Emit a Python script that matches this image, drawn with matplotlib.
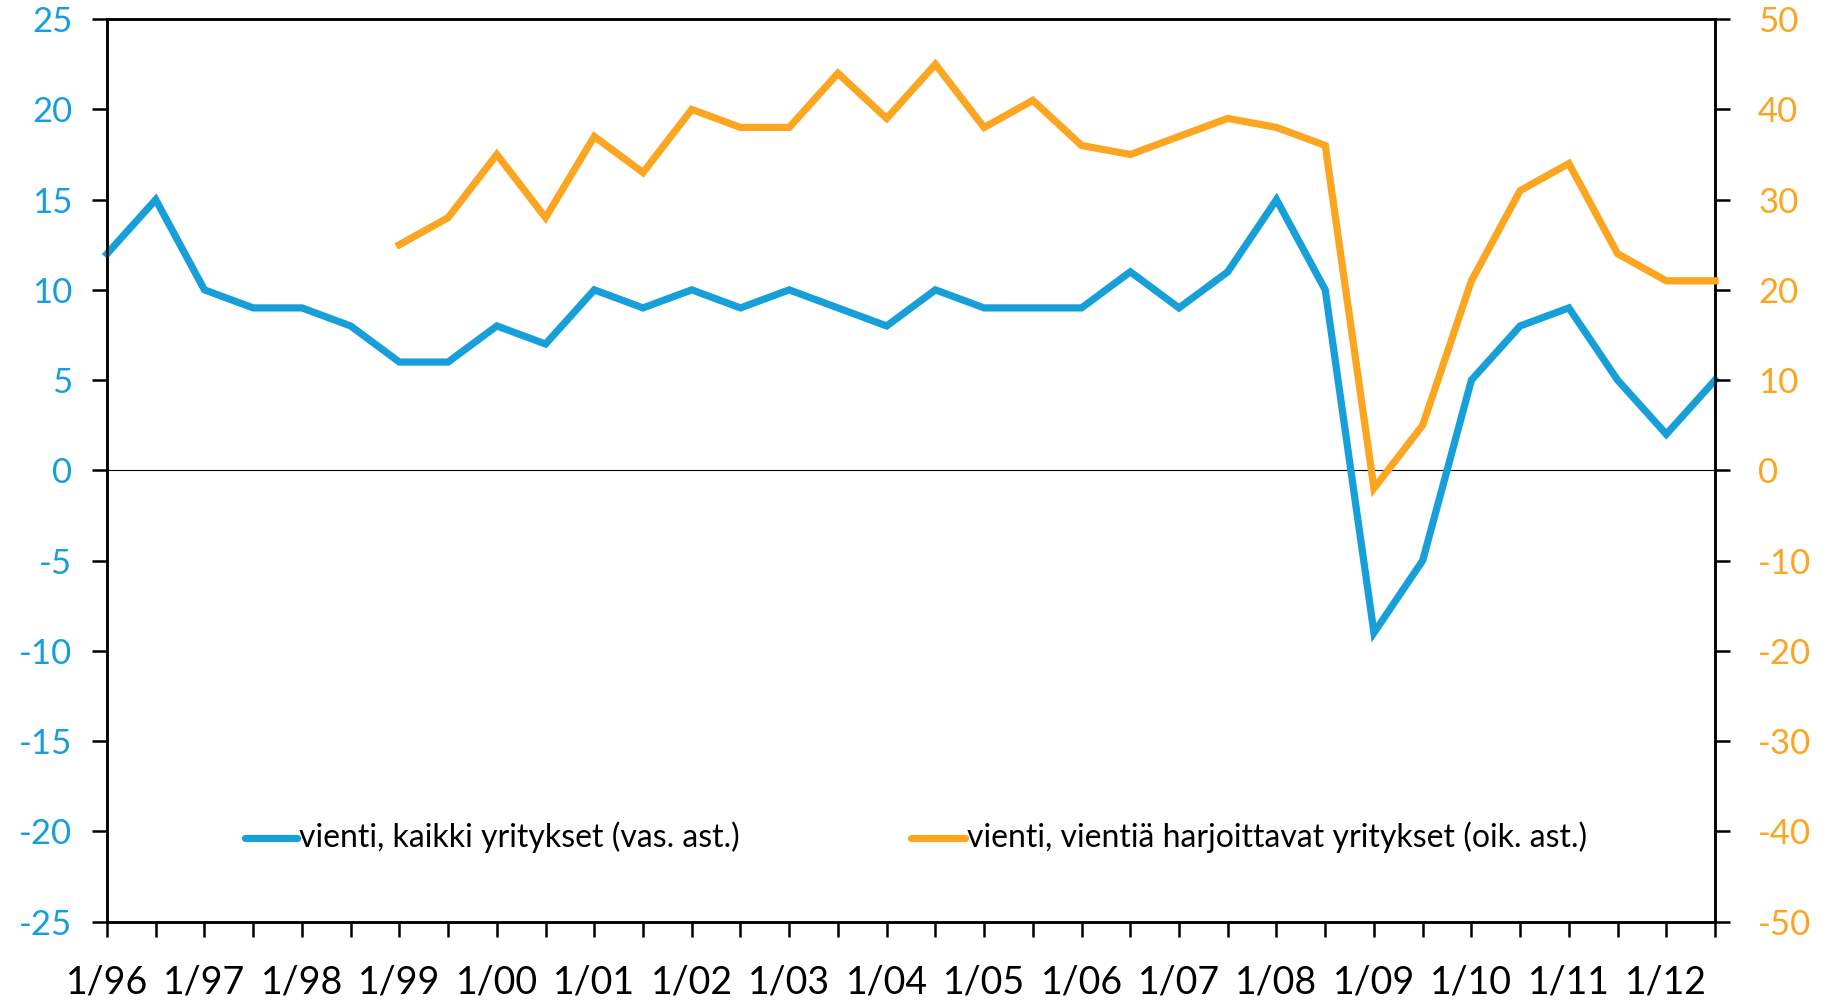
import matplotlib
matplotlib.use("Agg")
import matplotlib.pyplot as plt
from matplotlib.lines import Line2D
import numpy as np

plt.rcParams['font.family'] = ['Lato', 'DejaVu Sans']

blue_all = [12, 15, 10, 9, 9, 8, 6, 6, 8, 7, 10, 9, 10, 9, 10, 9, 8, 10, 9, 9,
            9, 11, 9, 11, 15, 10, -9, -5, 5, 8, 9, 5, 2, 5]
orange_exporters = [25, 28, 35, 28, 37, 33, 40, 38, 38, 44, 39, 45, 38, 41, 36, 35,
                    37, 39, 38, 36, -2, 5, 21, 31, 34, 24, 21, 21]
orange_start = 6

left_ticks = [-25, -20, -15, -10, -5, 0, 5, 10, 15, 20, 25]
right_ticks = [-50, -40, -30, -20, -10, 0, 10, 20, 30, 40, 50]
xtick_labels = [f"1/{y:02d}" for y in [96, 97, 98, 99, 0, 1, 2, 3, 4, 5, 6, 7, 8, 9, 10, 11, 12]]

label_blue = "vienti, kaikki yritykset (vas. ast.)"
label_orange = "vienti, vientiä harjoittavat yritykset (oik. ast.)"

BLUE = "#179FDA"
ORANGE = "#FBA520"

fig = plt.figure(figsize=(18.29, 10.08), dpi=100)
ax = fig.add_axes([0.0585, 0.0858, 0.8792, 0.8952])
ax2 = ax.twinx()

x = np.arange(len(blue_all))
xo = np.arange(orange_start, orange_start + len(orange_exporters))

ax.axhline(0, color="black", lw=0.8, zorder=1)
ax.plot(x, blue_all, color=BLUE, lw=5.2, solid_joinstyle="miter", zorder=3, clip_on=False)
ax2.plot(xo, orange_exporters, color=ORANGE, lw=5.2, solid_joinstyle="miter", zorder=3, clip_on=False)

ax.set_xlim(0, len(blue_all) - 1)
ax.set_ylim(-25, 25)
ax2.set_ylim(-50, 50)
ax.set_yticks(left_ticks)
ax2.set_yticks(right_ticks)
ax.set_yticklabels([str(t) for t in left_ticks], color=BLUE, fontsize=25)
ax2.set_yticklabels([str(t) for t in right_ticks], color=ORANGE, fontsize=25)

ax.set_xticks(x)
ax.set_xticklabels([xtick_labels[i // 2] if i % 2 == 0 else "" for i in x], fontsize=27)

for a in (ax, ax2):
    for s in a.spines.values():
        s.set_linewidth(1.8)
        s.set_color("black")
ax.tick_params(axis="both", direction="out", length=11, width=1.8)
ax.tick_params(axis="x", pad=20)
ax.tick_params(axis="y", pad=14)
ax2.tick_params(axis="y", direction="out", length=11, width=1.8, pad=20)

# legend
for x0, x1, col, lab in [(2.83, 3.9, BLUE, label_blue), (16.5, 17.6, ORANGE, label_orange)]:
    ax.add_line(Line2D([x0, x1], [-20.35, -20.35], color=col, lw=5.2, solid_capstyle="round", zorder=4))
    ax.text(x1 + 0.05, -20.35, lab, fontsize=23, va="center", ha="left", color="black")

fig.savefig("out.png", dpi=100)
